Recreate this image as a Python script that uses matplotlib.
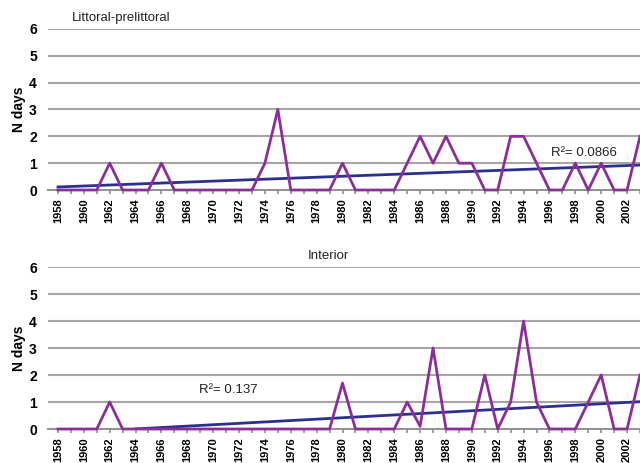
import numpy as np
import matplotlib.pyplot as plt

plt.rcParams['font.family'] = ['Liberation Sans Narrow', 'Liberation Sans', 'DejaVu Sans']

years = np.arange(1958, 2004)

# Littoral-prelittoral, N days per year
littoral = [0, 0, 0, 0, 1, 0, 0, 0, 1, 0,
            0, 0, 0, 0, 0, 0, 1, 3, 0, 0,
            0, 0, 1, 0, 0, 0, 0, 1, 2, 1,
            2, 1, 1, 0, 0, 2, 2, 1, 0, 0,
            1, 0, 1, 0, 0, 2]

# Interior, N days per year
interior = [0, 0, 0, 0, 1, 0, 0, 0, 0, 0,
            0, 0, 0, 0, 0, 0, 0, 0, 0, 0,
            0, 0, 1.7, 0, 0, 0, 0, 1, 0.1, 3,
            0, 0, 0, 2, 0, 1, 4, 1, 0, 0,
            0, 1, 2, 0, 0, 2]

panels = [
    ('Littoral-prelittoral', littoral, 'R²= 0.0866', 1958, (1996.1, 1.38)),
    ('Interior', interior, 'R²= 0.137', 1964, (1968.9, 1.44)),
]

purple = '#8a2f98'
blue = '#2b2f8f'
grid_col = '#a8a4a4'

fig = plt.figure(figsize=(6.4, 4.63), dpi=100)
ax_top = fig.add_axes([0.075, 0.5896, 0.925, 0.3478])
ax_bot = fig.add_axes([0.075, 0.0734, 0.925, 0.3499])

for ax, (title, vals, r2, trend_start, r2_pos) in zip([ax_top, ax_bot], panels):
    vals = np.array(vals, dtype=float)
    for yv in range(1, 7):
        ax.axhline(yv, color=grid_col, lw=1.5, zorder=1)

    # linear trend
    k, b = np.polyfit(years, vals, 1)
    tx = years[years >= trend_start]
    ax.plot(tx, k * tx + b, color=blue, lw=2, zorder=2)

    ax.plot(years, vals, color=purple, lw=2, zorder=3, clip_on=False)

    ax.set_xlim(1957.23, 2002.62)
    ax.set_ylim(0, 6)
    ax.set_xticks(years)
    ax.set_xticklabels([str(y) if y % 2 == 0 else '' for y in years],
                       rotation=90, fontsize=8, fontweight='bold')
    ax.set_yticks(range(0, 7))
    ax.set_yticklabels([str(v) for v in range(0, 7)], fontsize=10, fontweight='bold')
    ax.tick_params(axis='x', length=3, width=1.2, color='#909090', pad=3)
    ax.tick_params(axis='y', length=0, pad=8)
    for s in ['top', 'right', 'left']:
        ax.spines[s].set_visible(False)
    ax.spines['bottom'].set_color('#909090')
    ax.spines['bottom'].set_linewidth(1.4)
    ax.set_ylabel('N days', fontsize=10, fontweight='bold', labelpad=2)

    ax.text(r2_pos[0], r2_pos[1], r2, fontsize=9.5, va='center', ha='left', color='#222222')

ax_top.text(0.04, 1.07, 'Littoral-prelittoral', transform=ax_top.transAxes,
            fontsize=9.5, ha='left', va='center', color='#222222')
ax_bot.text(0.473, 1.07, 'Interior', transform=ax_bot.transAxes,
            fontsize=9.5, ha='center', va='center', color='#222222')

fig.savefig('out.png', dpi=100)
